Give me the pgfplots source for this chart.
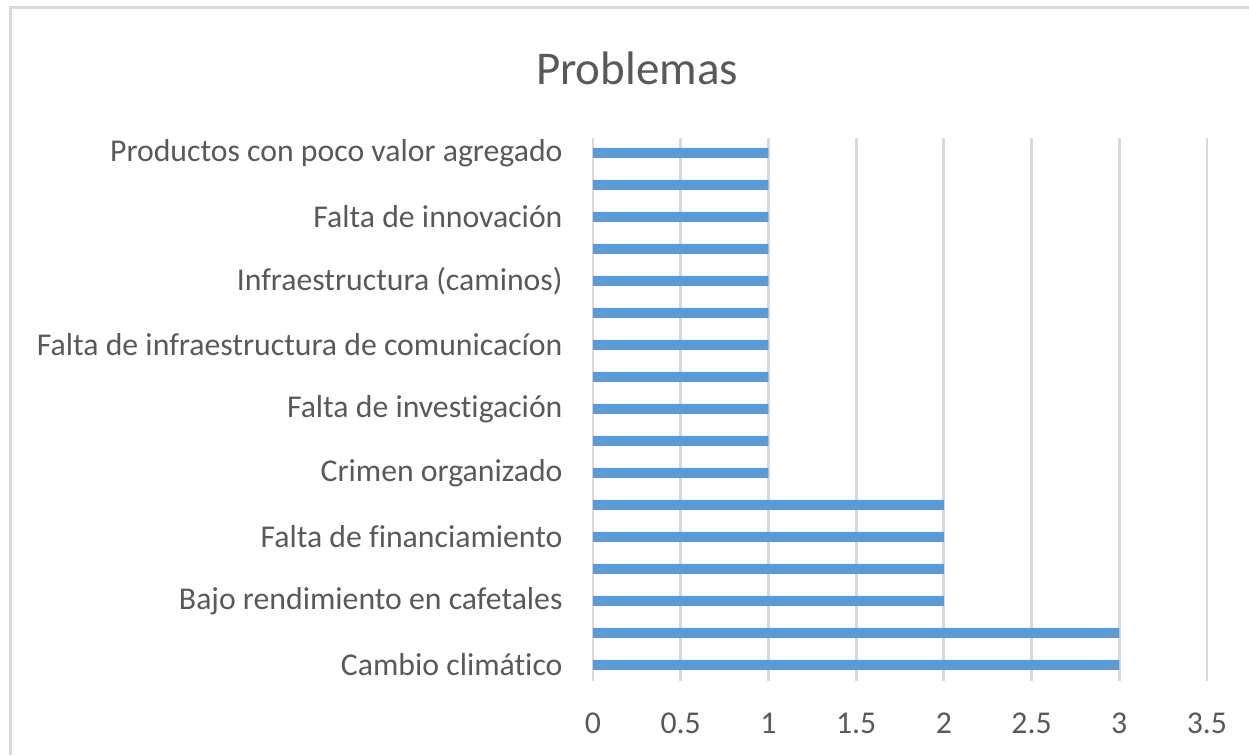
\documentclass[border=0pt]{standalone}
\usepackage{pgfplots}
\pgfplotsset{compat=1.18}
\usepackage{fontspec}
\setmainfont{Carlito}[Ligatures={NoCommon}]
\definecolor{barblue}{HTML}{5B9BD5}
\definecolor{gridgray}{HTML}{D9D9D9}
\definecolor{txtgray}{HTML}{595959}
\definecolor{framegray}{HTML}{D9D9D9}
\begin{document}
\begin{tikzpicture}[x=0.4pt,y=0.4pt]
\path[use as bounding box] (0,0) rectangle (1249,755);
\draw[framegray, line width=1.2pt] (10,0) -- (10,747) -- (1249,747);
\node[txtgray, font=\fontsize{18.8}{22}\selectfont, anchor=center] at (637,687) {Problemas};
\begin{axis}[
  at={(593*0.4pt,74*0.4pt)}, anchor=south west,
  scale only axis,
  width=245.6pt, height=217pt,
  xbar, bar width=4pt,
  xmin=0, xmax=3.5,
  ymin=-0.5, ymax=16.45,
  axis line style={draw=none},
  xtick={0,0.5,...,3.5},
  ytick={0,2,...,16},
  yticklabels={Cambio climático, Bajo rendimiento en cafetales\ , Falta de financiamiento, Crimen organizado\ , Falta de investigación\ , Falta de infraestructura de comunicacíon, Infraestructura (caminos), Falta de innovación, Productos con poco valor agregado},
  major tick length=0pt,
  xmajorgrids,
  grid style={gridgray, line width=1.1pt},
  /pgf/number format/assume math mode=true,
  ticklabel style={txtgray, font=\fontsize{12.7}{15}\selectfont},
  yticklabel style={anchor=east, inner sep=0pt, xshift=-12pt},
  xticklabel style={anchor=north, inner sep=0pt, yshift=-12.5pt},
  clip=false,
]
\addplot[fill=barblue, draw=none] coordinates {
(3,0) (3,1) (2,2) (2,3) (2,4) (2,5) (1,6) (1,7) (1,8) (1,9) (1,10) (1,11) (1,12) (1,13) (1,14) (1,15) (1,16)
};
\end{axis}
\end{tikzpicture}
\end{document}
